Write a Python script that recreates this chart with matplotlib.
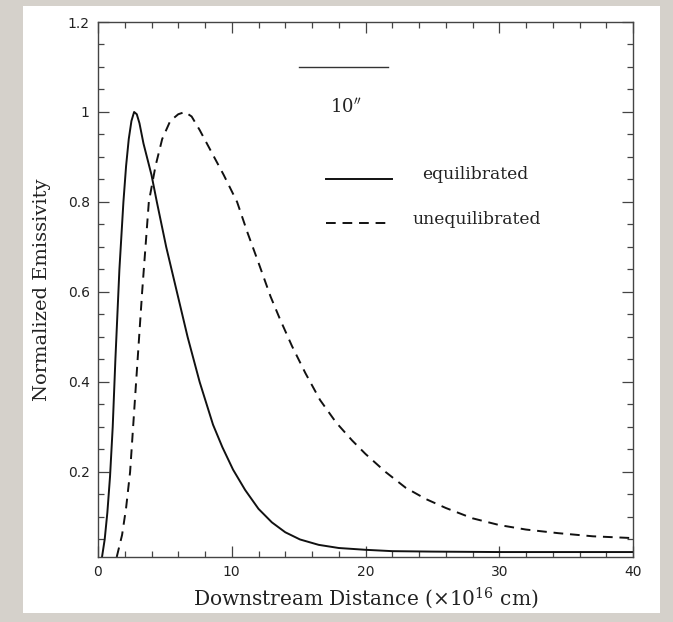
import numpy as np
import matplotlib
matplotlib.use("Agg")
import matplotlib.pyplot as plt
from matplotlib.patches import Rectangle
from matplotlib.ticker import MultipleLocator, FixedLocator, FixedFormatter

plt.rcParams['mathtext.fontset'] = 'dejavuserif'

# equilibrated curve
eq_x = [0.3, 0.5, 0.7, 0.9, 1.1, 1.3, 1.6, 1.9, 2.1, 2.3, 2.5, 2.7, 2.9, 3.1, 3.4,
        4.0, 4.4, 5.1, 5.9, 6.7, 7.6, 8.6, 9.3, 10.1, 11.0, 12.0, 13.0, 14.0,
        15.1, 16.5, 18.0, 20.0, 22.0, 25.0, 30.0, 35.0, 40.0]
eq_y = [0.011, 0.05, 0.11, 0.19, 0.3, 0.45, 0.65, 0.8, 0.88, 0.94, 0.98, 1.0, 0.995, 0.975, 0.93,
        0.86, 0.8, 0.7, 0.6, 0.5, 0.4, 0.305, 0.255, 0.205, 0.16, 0.118, 0.088, 0.066,
        0.05, 0.038, 0.031, 0.027, 0.024, 0.023, 0.022, 0.022, 0.022]

# unequilibrated curve
uneq_x = [1.4, 1.8, 2.1, 2.4, 2.85, 3.3, 3.8, 4.3, 4.8, 5.4, 6.0, 6.5, 7.0, 7.6,
          8.5, 9.4, 10.4, 11.2, 12.0, 12.9, 13.6, 14.5, 15.5, 16.6, 17.8, 19.0,
          20.0, 21.5, 23.0, 24.5, 26.0, 28.0, 30.0, 32.0, 34.4, 37.0, 40.0]
uneq_y = [0.011, 0.06, 0.12, 0.2, 0.4, 0.6, 0.8, 0.88, 0.94, 0.98, 0.995, 1.0, 0.99, 0.96,
          0.91, 0.86, 0.8, 0.73, 0.665, 0.59, 0.54, 0.48, 0.42, 0.36, 0.31, 0.27,
          0.24, 0.2, 0.165, 0.14, 0.12, 0.097, 0.082, 0.072, 0.064, 0.057, 0.053]

ytick_vals = [0.2, 0.4, 0.6, 0.8, 1.0, 1.2]
ytick_labels = ["0.2", "0.4", "0.6", "0.8", "1", "1.2"]
xtick_vals = [0, 10, 20, 30, 40]

fig = plt.figure(figsize=(6.73, 6.22), dpi=100)
fig.patch.set_facecolor("#d5d1cb")
# white card behind the plot
card = Rectangle((23/673, 1 - 613/622), (660 - 23)/673, (613 - 6)/622,
                 transform=fig.transFigure, facecolor="white",
                 edgecolor="none", zorder=-10)
fig.patches.append(card)

ax = fig.add_axes([98/673, 1 - 557/622, 535/673, 535/622])
ax.set_zorder(5)
ax.plot(eq_x, eq_y, color="#111111", lw=1.4)
ax.plot(uneq_x, uneq_y, color="#111111", lw=1.4, dashes=(5, 3.5))

ax.set_xlim(0, 40)
ax.set_ylim(0.011, 1.2)

ax.xaxis.set_major_locator(FixedLocator(xtick_vals))
ax.xaxis.set_minor_locator(MultipleLocator(2))
ax.yaxis.set_major_locator(FixedLocator(ytick_vals))
ax.yaxis.set_major_formatter(FixedFormatter(ytick_labels))
ax.yaxis.set_minor_locator(MultipleLocator(0.05))
ax.tick_params(which="both", direction="in", top=True, right=True,
               colors="#444444", labelcolor="#222222", labelsize=10, width=0.9)
ax.tick_params(which="major", length=8, pad=6)
ax.tick_params(which="minor", length=4)
for s in ax.spines.values():
    s.set_color("#444444")
    s.set_linewidth(1.0)

ax.set_xlabel(r"Downstream Distance ($\times$10$^{16}$ cm)", family="DejaVu Serif",
              fontsize=14.5, color="#222222", labelpad=4)
ax.set_ylabel("Normalized Emissivity", family="DejaVu Serif", fontsize=14,
              color="#222222", labelpad=12)

# scale bar and legend drawn inside the axes
ax.plot([15.0, 21.7], [1.1, 1.1], color="#333333", lw=1.0)
ax.text(18.5, 1.011, r"10$^{\prime\prime}$", family="DejaVu Serif", fontsize=13,
        ha="center", va="center", color="#222222")
ax.plot([17.05, 21.98], [0.851, 0.851], color="#111111", lw=1.4)
ax.text(24.2, 0.86, "equilibrated", family="DejaVu Serif", fontsize=12.3,
        va="center", color="#222222")
ax.plot([17.05, 21.98], [0.753, 0.753], color="#111111", lw=1.4, dashes=(5, 3.5))
ax.text(23.55, 0.762, "unequilibrated", family="DejaVu Serif", fontsize=12.3,
        va="center", color="#222222")

fig.savefig("out.png", dpi=100, facecolor=fig.get_facecolor())
